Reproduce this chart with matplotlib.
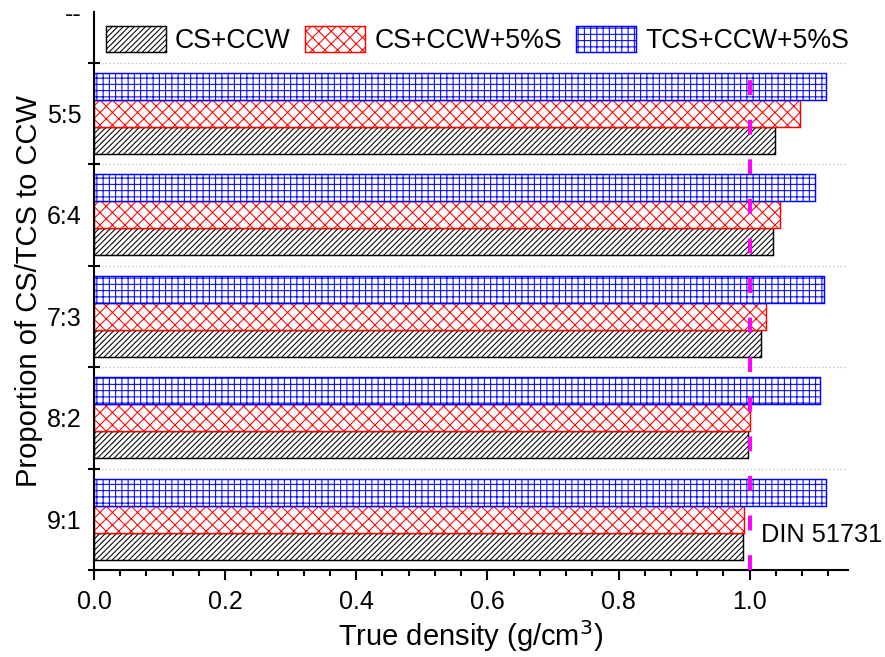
import matplotlib
matplotlib.use('Agg')
import matplotlib.pyplot as plt
import numpy as np

# values (g/cm3)
ratios = ['9:1', '8:2', '7:3', '6:4', '5:5']
cs_ccw = [0.990, 0.997, 1.017, 1.035, 1.038]
cs_ccw_s = [0.991, 1.000, 1.025, 1.047, 1.077]
tcs_ccw_s = [1.117, 1.108, 1.113, 1.099, 1.116]
series_names = ['CS+CCW', 'CS+CCW+5%S', 'TCS+CCW+5%S']
din_limit = 1.0

plt.rcParams['font.family'] = ['Liberation Sans', 'DejaVu Sans']
plt.rcParams['hatch.linewidth'] = 0.5

fig = plt.figure(figsize=(5.9, 4.38), dpi=150)
ax = fig.add_axes([0.1062, 0.1324, 0.852, 0.8493])

y = np.arange(1, len(ratios) + 1)
h = 0.266
ax.barh(y - h, cs_ccw, height=h, facecolor='white', edgecolor='black',
        hatch='/////////', linewidth=0.7, label=series_names[0], zorder=2)
ax.barh(y, cs_ccw_s, height=h, facecolor='white', edgecolor='#ff0000',
        hatch='xxxx', linewidth=0.7, label=series_names[1], zorder=2)
ax.barh(y + h, tcs_ccw_s, height=h, facecolor='white', edgecolor='#0000ff',
        hatch='++++', linewidth=0.7, label=series_names[2], zorder=2)

ax.plot([din_limit, din_limit], [0.5, 5.5], color='#ff00ff', lw=1.9,
        dashes=(3.75, 6.25), zorder=5)
ax.text(1.018, 0.85, 'DIN 51731', fontsize=12.2, ha='left', va='center')

ax.set_xlim(0, 1.15)
ax.set_ylim(0.5, 6.0)
ax.set_xticks(np.arange(0, 1.01, 0.2))
ax.set_xticks(np.arange(0, 1.15, 0.04), minor=True)
ax.set_xticklabels(['%.1f' % v for v in np.arange(0, 1.01, 0.2)])

ax.set_yticks(np.arange(0.5, 5.6, 1.0))
ax.set_yticklabels([])
ax.set_yticks(list(y) + [6], minor=True)
ax.set_yticklabels(ratios + ['--'], minor=True)

ax.tick_params(axis='x', which='major', direction='out', length=4.8, width=1, labelsize=12, pad=5)
ax.tick_params(axis='x', which='minor', direction='out', length=2.9, width=1)
ax.tick_params(axis='y', which='major', direction='inout', length=5.3, width=1)
ax.tick_params(axis='y', which='minor', length=0, labelsize=12, pad=6)

ax.grid(axis='y', which='major', color='#bbbbbb', linestyle=(0, (1, 2)), linewidth=0.6, zorder=0)

for s in ['top', 'right']:
    ax.spines[s].set_visible(False)
for s in ['left', 'bottom']:
    ax.spines[s].set_linewidth(1.0)

ax.set_xlabel('True density (g/cm$^3$)', fontsize=14, labelpad=2)
ax.set_ylabel('Proportion of CS/TCS to CCW', fontsize=14, labelpad=2)

ax.legend(loc='upper left', bbox_to_anchor=(0.016, 0.975), ncol=3, frameon=False,
          fontsize=12.8, handlelength=2.25, handleheight=1.12, handletextpad=0.34,
          columnspacing=0.54, borderpad=0, borderaxespad=0)

fig.savefig('out.png', dpi=150)
